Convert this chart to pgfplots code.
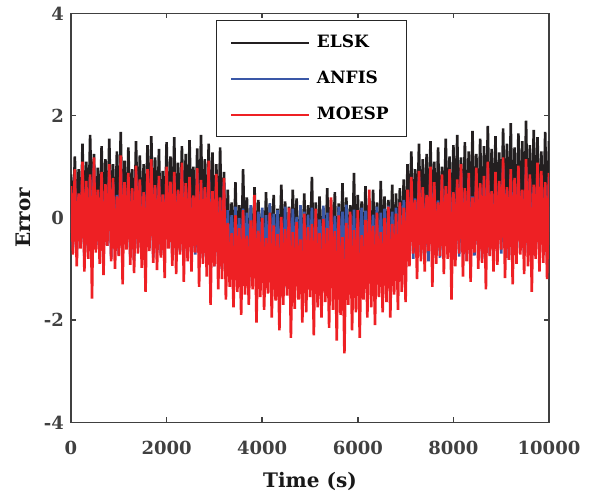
\documentclass[border=0pt]{standalone}
\usepackage{fontspec}
\setmainfont{DejaVu Serif}
\usepackage{pgfplots}
\usepackage{pgfplotstable}
\pgfplotsset{compat=1.18}
\definecolor{cE}{HTML}{231F20}
\definecolor{cA}{HTML}{3A57A7}
\definecolor{cM}{HTML}{EE2024}
\definecolor{axg}{HTML}{404040}
\pgfplotstableread{
x E A M
0 0.85 0.55 0.62
40 -0.30 -0.60 -0.72
80 1.20 0.82 0.95
120 -0.15 -0.75 -0.95
160 0.95 0.45 0.48
200 -0.42 -0.52 -0.60
240 1.45 0.98 1.10
280 -0.25 -0.82 -1.05
320 1.10 0.60 0.72
360 -0.35 -0.65 -0.80
400 1.62 0.80 0.85
440 -0.10 -0.70 -1.58
480 1.25 1.05 1.18
520 -0.45 -0.58 -0.68
560 0.98 0.50 0.55
600 -0.28 -0.78 -0.90
640 1.40 0.78 0.90
680 -0.20 -0.68 -1.12
720 1.15 0.60 0.66
760 -0.38 -0.55 -0.55
800 1.55 0.95 1.05
840 -0.12 -0.80 -0.85
880 1.05 0.70 0.78
920 -0.33 -0.62 -1.00
960 1.30 0.45 0.42
1000 -0.40 -0.72 -0.75
1040 1.68 1.08 1.22
1080 -0.22 -0.66 -1.30
1120 1.12 0.62 0.70
1160 -0.30 -0.58 -0.62
1200 1.38 0.80 0.88
1240 -0.18 -0.76 -0.92
1280 0.95 0.52 0.58
1320 -0.44 -0.84 -1.08
1360 1.50 0.92 1.02
1400 -0.26 -0.60 -0.70
1440 1.22 0.70 0.75
1480 -0.35 -0.70 -0.98
1520 1.05 0.48 0.50
1560 -0.14 -0.64 -1.45
1600 1.42 0.85 0.95
1640 -0.38 -0.56 -0.65
1680 1.60 1.02 1.15
1720 -0.24 -0.78 -0.88
1760 1.18 0.60 0.64
1800 -0.30 -0.68 -1.02
1840 1.35 0.74 0.82
1880 -0.46 -0.74 -0.78
1920 0.92 0.44 0.46
1960 -0.20 -0.62 -1.18
2000 1.48 0.90 1.00
2040 -0.34 -0.58 -0.60
2080 1.20 0.65 0.71
2120 -0.16 -0.80 -0.94
2160 1.58 0.82 0.90
2200 -0.40 -0.70 -1.10
2240 1.08 0.52 0.55
2280 -0.28 -0.66 -0.72
2320 1.40 0.98 1.08
2360 -0.22 -0.75 -1.25
2400 1.25 0.62 0.68
2440 -0.36 -0.60 -0.85
2480 1.52 0.72 0.80
2520 -0.12 -0.82 -1.05
2560 1.00 0.42 0.44
2600 -0.42 -0.72 -0.68
2640 1.36 0.88 0.97
2680 -0.30 -0.68 -1.35
2720 1.62 0.68 0.74
2760 -0.25 -0.78 -0.90
2800 1.15 0.55 0.60
2840 -0.48 -0.85 -1.15
2880 1.45 1.00 1.12
2920 -0.35 -0.80 -1.70
2960 1.28 0.50 0.52
3000 -0.55 -0.95 -0.95
3040 1.05 0.78 0.86
3080 -0.45 -0.90 -1.40
3120 1.38 0.38 0.40
3160 -0.60 -1.00 -1.20
3200 0.90 0.70 0.78
3240 -0.85 -1.15 -1.60
3280 0.55 0.15 -0.10
3320 -0.70 -1.05 -1.35
3360 0.30 0.05 -0.30
3400 -0.95 -1.30 -1.75
3440 0.70 0.22 0.05
3480 -0.78 -1.10 -1.45
3520 0.25 0.00 -0.20
3560 -0.90 -1.22 -1.90
3600 0.95 0.18 0.15
3640 -0.72 -1.00 -1.50
3680 0.40 0.10 -0.35
3720 -1.00 -1.35 -1.70
3760 0.20 0.25 -0.05
3800 -0.80 -1.12 -1.40
3840 0.60 -0.02 0.45
3880 -0.88 -1.20 -2.05
3920 0.35 0.12 -0.25
3960 -0.75 -1.08 -1.55
4000 0.15 0.20 0.00
4040 -0.95 -1.28 -1.80
4080 0.50 0.05 -0.40
4120 -0.82 -1.15 -1.48
4160 0.28 0.28 0.10
4200 -0.70 -1.02 -1.95
4240 0.45 0.08 -0.15
4280 -0.92 -1.25 -1.62
4320 0.18 0.15 -0.32
4360 -0.85 -1.18 -2.20
4400 0.65 -0.05 0.02
4440 -0.78 -1.10 -1.70
4480 0.32 0.22 -0.22
4520 -1.02 -1.38 -1.52
4560 0.22 0.10 0.20
4600 -0.88 -1.20 -2.35
4640 0.55 0.18 -0.28
4680 -0.74 -1.06 -1.78
4720 0.38 0.02 -0.08
4760 -0.96 -1.30 -1.60
4800 0.12 0.25 -0.42
4840 -0.80 -1.12 -2.05
4880 0.48 0.12 0.08
4920 -0.90 -1.24 -1.85
4960 0.25 0.06 -0.18
5000 -0.72 -1.04 -1.55
5040 0.80 0.20 -0.12
5080 -0.98 -1.32 -2.30
5120 0.30 0.14 0.18
5160 -0.84 -1.16 -1.75
5200 0.42 -0.03 -0.30
5240 -0.76 -1.08 -1.95
5280 0.20 0.24 -0.02
5320 -0.94 -1.26 -1.65
5360 0.58 0.10 -0.20
5400 -0.86 -1.18 -2.15
5440 0.35 0.18 0.40
5480 -0.70 -1.02 -1.80
5520 0.50 0.04 -0.26
5560 -1.00 -1.34 -2.40
5600 0.28 0.22 0.05
5640 -0.82 -1.14 -1.90
5680 0.68 0.12 -0.38
5720 -0.92 -1.24 -2.65
5760 0.40 0.26 -0.10
5800 -0.78 -1.10 -1.70
5840 0.25 0.08 0.12
5880 -0.88 -1.20 -2.20
5920 0.88 0.16 -0.24
5960 -0.96 -1.30 -1.85
6000 0.45 0.00 0.15
6040 -0.74 -1.06 -2.35
6080 0.32 0.20 -0.34
6120 -0.90 -1.22 -1.60
6160 0.62 0.14 -0.04
6200 -0.80 -1.12 -1.95
6240 0.38 0.28 0.55
6280 -0.86 -1.18 -1.75
6320 0.55 0.06 -0.16
6360 -0.72 -1.04 -2.10
6400 0.30 0.22 0.10
6440 -0.94 -1.28 -1.55
6480 0.72 0.10 -0.28
6520 -0.78 -1.10 -1.85
6560 0.42 0.18 0.00
6600 -0.84 -1.16 -1.65
6640 0.35 0.24 0.22
6680 -0.70 -1.02 -1.95
6720 0.65 0.12 -0.12
6760 -0.88 -1.20 -1.50
6800 0.48 0.20 0.08
6840 -0.76 -1.08 -1.80
6880 0.58 0.30 0.30
6920 -0.82 -1.14 -1.45
6960 0.75 0.35 0.20
7000 -0.74 -1.06 -1.65
7040 1.05 0.48 0.55
7080 -0.25 -0.65 -0.95
7120 1.30 0.70 0.80
7160 -0.40 -0.80 -0.70
7200 0.95 0.38 0.35
7240 -0.18 -0.58 -1.20
7280 1.45 0.80 0.92
7320 -0.35 -0.75 -0.85
7360 1.15 0.55 0.60
7400 -0.28 -0.70 -1.05
7440 1.25 0.42 0.45
7480 -0.45 -0.85 -0.65
7520 1.50 0.88 1.00
7560 -0.20 -0.60 -1.35
7600 1.10 0.62 0.70
7640 -0.32 -0.72 -0.90
7680 1.38 0.34 0.30
7720 -0.38 -0.78 -0.75
7760 1.00 0.75 0.85
7800 -0.15 -0.55 -1.10
7840 1.55 0.55 0.62
7880 -0.30 -0.70 -0.80
7920 1.20 0.85 0.95
7960 -0.42 -0.82 -1.60
8000 1.42 0.48 0.50
8040 -0.22 -0.62 -0.95
8080 1.62 0.66 0.75
8120 -0.36 -0.76 -0.70
8160 1.18 0.92 1.05
8200 -0.26 -0.66 -1.15
8240 1.48 0.54 0.58
8280 -0.44 -0.84 -0.85
8320 1.30 0.78 0.88
8360 -0.18 -0.58 -1.25
8400 1.70 0.42 0.40
8440 -0.34 -0.74 -0.68
8480 1.25 0.86 0.98
8520 -0.28 -0.68 -1.00
8560 1.55 0.60 0.68
8600 -0.40 -0.80 -0.88
8640 1.40 0.74 0.82
8680 -0.20 -0.60 -1.40
8720 1.80 0.98 1.10
8760 -0.32 -0.72 -0.75
8800 1.35 0.50 0.52
8840 -0.38 -0.78 -1.05
8880 1.60 0.80 0.90
8920 -0.24 -0.64 -0.92
8960 1.28 0.66 0.72
9000 -0.30 -0.70 -0.62
9040 1.75 1.02 1.18
9080 -0.16 -0.56 -1.18
9120 1.45 0.56 0.60
9160 -0.42 -0.82 -0.82
9200 1.85 0.85 0.95
9240 -0.26 -0.66 -1.30
9280 1.38 0.70 0.78
9320 -0.36 -0.76 -0.90
9360 1.65 0.92 1.02
9400 -0.22 -0.62 -0.72
9440 1.50 0.52 0.55
9480 -0.34 -0.74 -1.10
9520 1.90 1.00 1.15
9560 -0.28 -0.68 -0.95
9600 1.42 0.76 0.85
9640 -0.40 -0.80 -1.45
9680 1.72 0.60 0.65
9720 -0.18 -0.58 -0.80
9760 1.58 0.96 1.08
9800 -0.32 -0.72 -1.05
9840 1.30 0.82 0.92
9880 -0.25 -0.65 -0.88
9920 1.68 0.64 0.70
9960 -0.38 -0.78 -1.20
10000 1.50 0.80 0.88
}\data
\begin{document}
\begin{tikzpicture}
\begin{axis}[
  scale only axis,
  width=239pt, height=204.5pt,
  xmin=0, xmax=10000, ymin=-4, ymax=4,
  xtick={0,2000,4000,6000,8000,10000},
  ytick={-4,-2,0,2,4},
  scaled x ticks=false,
  xticklabel style={/pgf/number format/1000 sep={}},
  /pgf/number format/assume math mode=true,
  tick align=inside,
  major tick length=2.5pt,
  axis line style={axg, line width=0.75pt},
  every tick/.style={axg, line width=0.75pt},
  ticklabel style={font=\fontsize{9}{10}\selectfont\bfseries, text=axg},
  xticklabel style={yshift=-6pt},
  xlabel={Time (s)}, ylabel={Error},
  label style={font=\fontsize{10}{12}\selectfont\bfseries, text=black!90},
  xlabel style={yshift=-2pt},
  ylabel style={yshift=-0.5pt},
  legend cell align=left,
  legend style={at={(0.3033,0.983)}, anchor=north west,
    draw=black!85, line width=0.6pt, fill=white,
    inner xsep=7pt, inner ysep=5pt, row sep=6pt,
    /tikz/every odd column/.append style={column sep=1.5pt},
    nodes={font=\fontsize{8.5}{10}\selectfont\bfseries, text height=6.5pt, text depth=1.5pt, inner sep=2pt}},
  legend image code/.code={\draw[#1, line width=0.7pt] (0pt,0pt) -- (39pt,0pt);},
  clip=true,
]
\addplot[cE, line width=1.3pt, line join=miter, miter limit=2] table[x=x, y=E] {\data};
\addlegendentry{ELSK}
\addplot[cA, line width=1.3pt, line join=miter, miter limit=2] table[x=x, y=A] {\data};
\addlegendentry{ANFIS}
\addplot[cM, line width=1.3pt, line join=miter, miter limit=2] table[x=x, y=M] {\data};
\addlegendentry{MOESP}
\end{axis}
\path ([xshift=-35.5pt,yshift=-37.5pt]current axis.south west) rectangle ([xshift=20.5pt,yshift=6.5pt]current axis.north east);
\end{tikzpicture}
\end{document}
